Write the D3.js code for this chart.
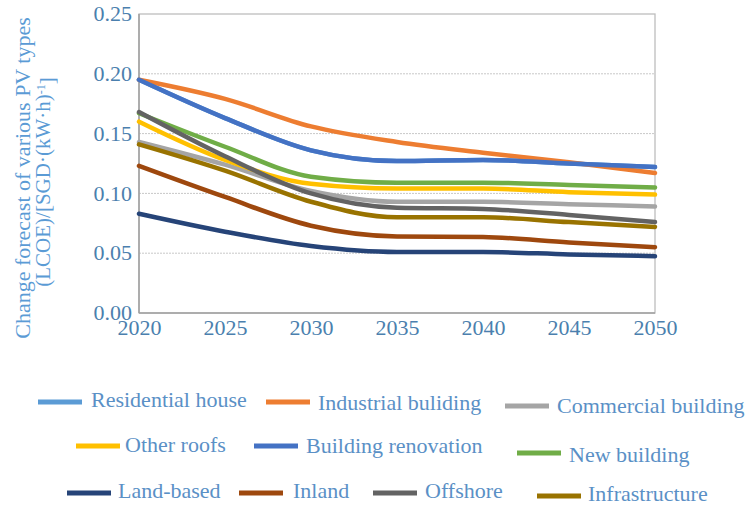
<!DOCTYPE html>
<html>
<head>
<meta charset="utf-8">
<script src="https://cdn.jsdelivr.net/npm/d3@7/dist/d3.min.js"></script>
<style>
  html, body { margin: 0; padding: 0; background: #fff; }
  svg { display: block; }
  text { font-family: "Liberation Serif", "DejaVu Serif", serif; }
</style>
</head>
<body>
<svg id="chart" width="750" height="507"></svg>
<script>
// ---- data ----
const years = [2020, 2025, 2030, 2035, 2040, 2045, 2050];
const yTicks = [0.00, 0.05, 0.10, 0.15, 0.20, 0.25];
const seriesNames = ["Residential house", "Industrial buliding", "Commercial building",
  "Other roofs", "Building renovation", "New building",
  "Land-based", "Inland", "Offshore", "Infrastructure"];
const seriesColors = ["#5b9bd5", "#ed7d31", "#a5a5a5", "#ffc000", "#4472c4", "#70ad47",
  "#264478", "#9e480e", "#636363", "#997300"];
const residential  = [0.195, 0.163, 0.136, 0.127, 0.128, 0.125, 0.122];
const industrial   = [0.195, 0.179, 0.156, 0.143, 0.134, 0.126, 0.117];
const commercial   = [0.143, 0.124, 0.102, 0.093, 0.093, 0.091, 0.089];
const otherRoofs   = [0.160, 0.128, 0.108, 0.104, 0.104, 0.101, 0.099];
const renovation   = [0.195, 0.163, 0.136, 0.127, 0.128, 0.125, 0.122];
const newBuilding  = [0.167, 0.139, 0.114, 0.109, 0.109, 0.107, 0.105];
const landBased    = [0.083, 0.068, 0.056, 0.051, 0.051, 0.049, 0.0475];
const inland       = [0.123, 0.097, 0.073, 0.064, 0.0635, 0.059, 0.055];
const offshore     = [0.168, 0.131, 0.100, 0.088, 0.087, 0.082, 0.076];
const infrastructure = [0.141, 0.119, 0.093, 0.080, 0.080, 0.076, 0.072];
const seriesValues = [residential, industrial, commercial, otherRoofs, renovation,
  newBuilding, landBased, inland, offshore, infrastructure];
const yTitle1 = "Change forecast of various PV types";
const yTitle2a = "(LCOE)/[SGD·(kW·h)";
const yTitle2sup = "-1";
const yTitle2b = "]";

// ---- layout ----
const svg = d3.select("#chart");
const L = 139, R = 655, T = 14, B = 313;
const x = d3.scaleLinear().domain([2020, 2050]).range([L, R]);
const y = d3.scaleLinear().domain([0, 0.25]).range([B, T]);

// gridlines
svg.append("g").selectAll("line").data(yTicks.filter(d => d > 0 && d < 0.25)).join("line")
  .attr("x1", L).attr("x2", R).attr("y1", d => y(d)).attr("y2", d => y(d))
  .attr("stroke", "#c8c8c8").attr("stroke-width", 1).attr("stroke-dasharray", "2,1");

// frame
svg.append("rect").attr("x", L).attr("y", T).attr("width", R - L).attr("height", B - T)
  .attr("fill", "none").attr("stroke", "#bdbdbd").attr("stroke-width", 1.3);

// axes
const yAxis = d3.axisLeft(y).tickValues(yTicks).tickFormat(d3.format(".2f")).tickSize(0).tickPadding(7);
const gy = svg.append("g").attr("transform", `translate(${L},0)`).call(yAxis);
const xAxis = d3.axisBottom(x).tickValues(years).tickFormat(d3.format("d")).tickSize(0).tickPadding(6);
const gx = svg.append("g").attr("transform", `translate(0,${B})`).call(xAxis);
[gy, gx].forEach(g => {
  g.select(".domain").attr("stroke", "#a0a0a0").attr("stroke-width", 1.5);
  g.selectAll("text").attr("fill", "#4b7fae").style("font-size", "22px")
    .style("font-family", '"Liberation Serif", serif');
});
gy.select(".domain").attr("d", `M0,${B}V${T}`);
gx.select(".domain").attr("d", `M${L},0H${R}`);
gx.selectAll("text").attr("dy", "0.74em");
gy.selectAll("text").attr("dy", "0.3em");

// y title
const tg = svg.append("g").attr("fill", "#5b9bd5").style("font-size", "22px");
tg.append("text").attr("transform", "translate(30,178) rotate(-90)").attr("text-anchor", "middle").text(yTitle1);
const t2 = tg.append("text").attr("transform", "translate(50,182) rotate(-90)").attr("text-anchor", "middle")
  .style("font-size", "21px");
t2.append("tspan").text(yTitle2a);
t2.append("tspan").attr("dy", "-0.45em").style("font-size", "12px").text(yTitle2sup);
t2.append("tspan").attr("dy", "0.45em").text(yTitle2b);

// lines
const line = d3.line().x((d, i) => x(years[i])).y(d => y(d)).curve(d3.curveMonotoneX);
svg.append("g").selectAll("path").data(seriesValues).join("path")
  .attr("d", d => line(d)).attr("fill", "none")
  .attr("stroke", (d, i) => seriesColors[i]).attr("stroke-width", 4.5)
  .attr("stroke-linecap", "round").attr("stroke-linejoin", "round");

// legend (layout positions)
const legPos = [
  {sx: 38, sy: 402, tx: 91, ty: 407}, {sx: 266, sy: 402, tx: 318, ty: 410}, {sx: 505, sy: 406, tx: 557, ty: 413},
  {sx: 76, sy: 446, tx: 125, ty: 452}, {sx: 254, sy: 446, tx: 306, ty: 453}, {sx: 517, sy: 453, tx: 569, ty: 462},
  {sx: 67, sy: 493, tx: 118, ty: 498}, {sx: 239, sy: 493, tx: 293, ty: 498}, {sx: 373, sy: 493, tx: 425, ty: 498},
  {sx: 537, sy: 496, tx: 588, ty: 501}
];
const lg = svg.append("g");
seriesNames.forEach((name, i) => {
  const p = legPos[i];
  lg.append("line").attr("x1", p.sx).attr("x2", p.sx + 44).attr("y1", p.sy).attr("y2", p.sy)
    .attr("stroke", seriesColors[i]).attr("stroke-width", 5);
  lg.append("text").attr("x", p.tx).attr("y", p.ty).attr("fill", "#5a90c6")
    .style("font-size", "22px").text(name);
});
</script>
</body>
</html>
